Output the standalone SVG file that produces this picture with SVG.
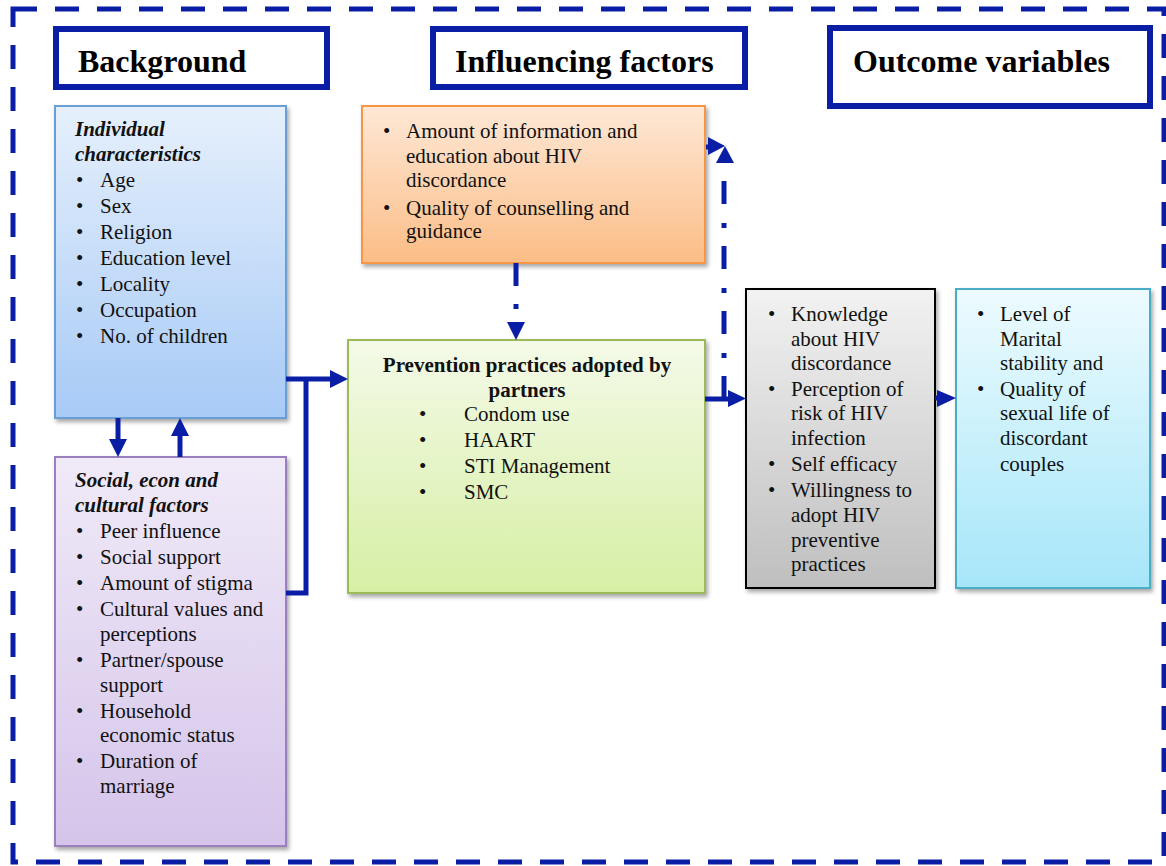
<svg xmlns="http://www.w3.org/2000/svg" width="1166" height="866" viewBox="0 0 1166 866">
<defs>
<style>
.t{font-family:"Liberation Serif","Times New Roman",serif;font-size:21px;fill:#111}
.b{font-weight:bold}
.bi{font-weight:bold;font-style:italic}
.h{font-family:"Liberation Serif","Times New Roman",serif;font-size:32px;font-weight:bold;fill:#000}
.hdr{fill:#fff;stroke:#0a1ea5;stroke-width:6}
.ln{fill:none;stroke:#0a1ea5;stroke-width:5}
.dd{fill:none;stroke:#0a1ea5;stroke-width:5;stroke-dasharray:23 18 5 19}
.ah{fill:#0a1ea5}
</style>
<linearGradient id="gBlue" x1="0" y1="0" x2="0" y2="1"><stop offset="0" stop-color="#e6f0fc"/><stop offset="1" stop-color="#a7caf6"/></linearGradient>
<linearGradient id="gPurple" x1="0" y1="0" x2="0" y2="1"><stop offset="0" stop-color="#f0eaf8"/><stop offset="1" stop-color="#d5c4ea"/></linearGradient>
<linearGradient id="gOrange" x1="0" y1="0" x2="0" y2="1"><stop offset="0" stop-color="#fee8d6"/><stop offset="1" stop-color="#fbbd86"/></linearGradient>
<linearGradient id="gGreen" x1="0" y1="0" x2="0" y2="1"><stop offset="0" stop-color="#f4fae8"/><stop offset="1" stop-color="#d6efa4"/></linearGradient>
<linearGradient id="gGray" x1="0" y1="0" x2="0" y2="1"><stop offset="0" stop-color="#f2f2f2"/><stop offset="1" stop-color="#bfbfbf"/></linearGradient>
<linearGradient id="gCyan" x1="0" y1="0" x2="0" y2="1"><stop offset="0" stop-color="#edfbfe"/><stop offset="1" stop-color="#a6e6f9"/></linearGradient>
<filter id="sh" x="-10%" y="-10%" width="120%" height="120%"><feDropShadow dx="2" dy="3" stdDeviation="2" flood-color="#000" flood-opacity="0.35"/></filter>
</defs>
<rect width="1166" height="866" fill="#fff"/>
<rect id="frame" x="13" y="9" width="1151" height="853" fill="none" stroke="#0a1ea5" stroke-width="5" stroke-dasharray="24 18"/>

<g id="hdr-background"><rect class="hdr" x="56" y="29" width="271" height="58"/><text class="h" x="78" y="72">Background</text></g>
<g id="hdr-influencing"><rect class="hdr" x="433" y="29" width="312" height="58"/><text class="h" x="455" y="72">Influencing factors</text></g>
<g id="hdr-outcome"><rect class="hdr" x="830" y="28" width="320" height="78"/><text class="h" x="853" y="72">Outcome variables</text></g>

<g id="individual">
<rect x="55" y="106" width="231" height="312" fill="url(#gBlue)" stroke="#6a9fd4" stroke-width="2" filter="url(#sh)"/>
<text class="t bi" x="75" y="136">Individual</text>
<text class="t bi" x="75" y="161">characteristics</text>
<g class="t">
<text x="76" y="187">•</text><text x="100" y="187">Age</text>
<text x="76" y="213">•</text><text x="100" y="213">Sex</text>
<text x="76" y="239">•</text><text x="100" y="239">Religion</text>
<text x="76" y="265">•</text><text x="100" y="265">Education level</text>
<text x="76" y="291">•</text><text x="100" y="291">Locality</text>
<text x="76" y="317">•</text><text x="100" y="317">Occupation</text>
<text x="76" y="343">•</text><text x="100" y="343">No. of children</text>
</g>
</g>

<g id="social">
<rect x="55" y="457" width="231" height="389" fill="url(#gPurple)" stroke="#9b80bf" stroke-width="2" filter="url(#sh)"/>
<text class="t bi" x="75" y="487">Social, econ and</text>
<text class="t bi" x="75" y="512">cultural factors</text>
<g class="t">
<text x="76" y="538">•</text><text x="100" y="538">Peer influence</text>
<text x="76" y="564">•</text><text x="100" y="564">Social support</text>
<text x="76" y="590">•</text><text x="100" y="590">Amount of stigma</text>
<text x="76" y="616">•</text><text x="100" y="616">Cultural values and</text>
<text x="100" y="641">perceptions</text>
<text x="76" y="667">•</text><text x="100" y="667">Partner/spouse</text>
<text x="100" y="692">support</text>
<text x="76" y="718">•</text><text x="100" y="718">Household</text>
<text x="100" y="742">economic status</text>
<text x="76" y="768">•</text><text x="100" y="768">Duration of</text>
<text x="100" y="793">marriage</text>
</g>
</g>

<g id="information">
<rect x="362" y="106" width="343" height="157" fill="url(#gOrange)" stroke="#f79646" stroke-width="2" filter="url(#sh)"/>
<g class="t">
<text x="383" y="138">•</text><text x="406" y="138">Amount of information and</text>
<text x="406" y="163">education about HIV</text>
<text x="406" y="187">discordance</text>
<text x="383" y="215">•</text><text x="406" y="215">Quality of counselling and</text>
<text x="406" y="238">guidance</text>
</g>
</g>

<g id="prevention">
<rect x="348" y="340" width="357" height="253" fill="url(#gGreen)" stroke="#9bbb59" stroke-width="2" filter="url(#sh)"/>
<text class="t b" x="527" y="372" text-anchor="middle">Prevention practices adopted by</text>
<text class="t b" x="527" y="397" text-anchor="middle">partners</text>
<g class="t">
<text x="419" y="421">•</text><text x="464" y="421">Condom use</text>
<text x="419" y="447">•</text><text x="464" y="447">HAART</text>
<text x="419" y="473">•</text><text x="464" y="473">STI Management</text>
<text x="419" y="499">•</text><text x="464" y="499">SMC</text>
</g>
</g>

<g id="mediators">
<rect x="746" y="289" width="189" height="299" fill="url(#gGray)" stroke="#000" stroke-width="2" filter="url(#sh)"/>
<g class="t">
<text x="768" y="321">•</text><text x="791" y="321">Knowledge</text>
<text x="791" y="346">about HIV</text>
<text x="791" y="370">discordance</text>
<text x="768" y="396">•</text><text x="791" y="396">Perception of</text>
<text x="791" y="420">risk of HIV</text>
<text x="791" y="445">infection</text>
<text x="768" y="471">•</text><text x="791" y="471">Self efficacy</text>
<text x="768" y="497">•</text><text x="791" y="497">Willingness to</text>
<text x="791" y="522">adopt HIV</text>
<text x="791" y="547">preventive</text>
<text x="791" y="571">practices</text>
</g>
</g>

<g id="outcomes">
<rect x="956" y="289" width="194" height="299" fill="url(#gCyan)" stroke="#4bacc6" stroke-width="2" filter="url(#sh)"/>
<g class="t">
<text x="977" y="321">•</text><text x="1000" y="321">Level of</text>
<text x="1000" y="346">Marital</text>
<text x="1000" y="370">stability and</text>
<text x="977" y="396">•</text><text x="1000" y="396">Quality of</text>
<text x="1000" y="420">sexual life of</text>
<text x="1000" y="445">discordant</text>
<text x="1000" y="471">couples</text>
</g>
</g>

<g id="connectors">
<path class="ln" d="M286,379 H332"/>
<polygon class="ah" points="330,370 348,379 330,388"/>
<path class="ln" d="M286,593 H306 V379"/>
<path class="ln" d="M118,418 V440"/>
<polygon class="ah" points="109,439 127,439 118,457"/>
<path class="ln" d="M180,457 V435"/>
<polygon class="ah" points="171,436 189,436 180,418"/>
<path class="dd" d="M516,263 V322"/>
<polygon class="ah" points="507,322 525,322 516,340"/>
<path class="ln" d="M705,399 H730"/>
<polygon class="ah" points="728,390 746,398.5 728,407"/>
<path class="dd" d="M724,399 V163"/>
<polygon class="ah" points="716,163 734,163 725,146"/>
<path class="ln" d="M706,147 H712"/>
<polygon class="ah" points="708,137 725,146 708,155"/>
<path class="ln" d="M935,398 H940"/>
<polygon class="ah" points="937,390 956,398 937,407"/>
</g>
</svg>
